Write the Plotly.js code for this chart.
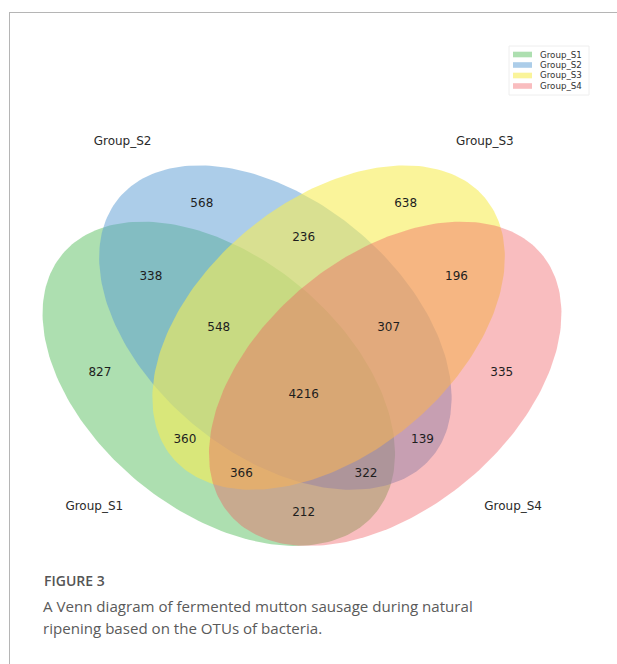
<!DOCTYPE html>
<html>
<head>
<meta charset="utf-8">
<script src="https://cdn.plot.ly/plotly-3.0.1.min.js"></script>
<style>html,body{margin:0;padding:0;background:#fff;}#chart{width:617px;height:664px;}</style>
</head>
<body>
<div id="chart"></div>
<script>
// ---- data ----
const setNames = ['Group_S1', 'Group_S2', 'Group_S3', 'Group_S4'];
// region membership keys (S1 S2 S3 S4) and OTU counts
const regionKeys = ['1000', '0100', '0010', '0001', '1100', '1010', '1001', '0110', '0101', '0011', '1110', '1101', '1011', '0111', '1111'];
const regionCounts = [827, 568, 638, 335, 338, 360, 212, 236, 139, 196, 548, 322, 366, 307, 4216];
const captionLabel = 'FIGURE 3';
const captionLines = ['A Venn diagram of fermented mutton sausage during natural', 'ripening based on the OTUs of bacteria.'];

// ---- layout / style (geometry of the classic 4-set ellipse Venn) ----
const W = 617, H = 664;
const colors = ['rgba(92,192,98,0.5)', 'rgba(90,155,212,0.5)', 'rgba(246,236,86,0.6)', 'rgba(241,90,96,0.4)'];
const ellipses = [
  {cx: 0.350, cy: 0.400, w: 0.72, h: 0.45, ang: 140},
  {cx: 0.450, cy: 0.500, w: 0.72, h: 0.45, ang: 140},
  {cx: 0.544, cy: 0.500, w: 0.72, h: 0.45, ang: 40},
  {cx: 0.644, cy: 0.400, w: 0.72, h: 0.45, ang: 40}
];
const labelPos = {
  '0001': [0.85, 0.42], '0010': [0.68, 0.72], '0011': [0.77, 0.59], '0100': [0.32, 0.72],
  '0101': [0.71, 0.30], '0110': [0.50, 0.66], '0111': [0.65, 0.50], '1000': [0.14, 0.42],
  '1001': [0.50, 0.17], '1010': [0.29, 0.30], '1011': [0.39, 0.24], '1100': [0.23, 0.59],
  '1101': [0.61, 0.24], '1110': [0.35, 0.50], '1111': [0.50, 0.38]
};
const namePos = [[0.13, 0.18], [0.18, 0.83], [0.82, 0.83], [0.87, 0.18]];
// pixel mapping of the data box
const px0 = 20.7, sx = 566, py0 = 608.6, sy = 562;
const xr = [(0 - px0) / sx, (W - px0) / sx];
const yr = [(py0 - H) / sy, py0 / sy];

const traces = [];
ellipses.forEach((e, i) => {
  const a = e.w / 2, b = e.h / 2, th = e.ang * Math.PI / 180;
  const xs = [], ys = [];
  for (let k = 0; k <= 240; k++) {
    const t = 2 * Math.PI * k / 240;
    xs.push(e.cx + a * Math.cos(t) * Math.cos(th) - b * Math.sin(t) * Math.sin(th));
    ys.push(e.cy + a * Math.cos(t) * Math.sin(th) + b * Math.sin(t) * Math.cos(th));
  }
  traces.push({
    type: 'scatter', mode: 'lines', x: xs, y: ys, fill: 'toself',
    fillcolor: colors[i], line: {width: 0, color: 'rgba(0,0,0,0)'},
    name: setNames[i], showlegend: false, hoverinfo: 'skip'
  });
});
traces.push({
  type: 'scatter', mode: 'text',
  x: regionKeys.map(k => labelPos[k][0]),
  y: regionKeys.map(k => labelPos[k][1]),
  text: regionCounts.map(String),
  textposition: 'middle center',
  textfont: {family: 'DejaVu Sans', size: 12, color: '#1e1e1e'},
  showlegend: false, hoverinfo: 'skip'
});
traces.push({
  type: 'scatter', mode: 'text',
  x: namePos.map(p => p[0]), y: namePos.map(p => p[1]),
  text: setNames, textposition: 'middle center',
  textfont: {family: 'DejaVu Sans', size: 12, color: '#2a2a2a'},
  showlegend: false, hoverinfo: 'skip'
});

const shapes = [
  {type: 'line', xref: 'paper', yref: 'paper', x0: 9 / W, x1: 1, y0: 1 - 12.5 / H, y1: 1 - 12.5 / H, line: {color: '#b5b5b5', width: 1}},
  {type: 'line', xref: 'paper', yref: 'paper', x0: 9.5 / W, x1: 9.5 / W, y0: 1 - 12 / H, y1: 0, line: {color: '#b5b5b5', width: 1}},
  // legend frame
  {type: 'rect', xref: 'paper', yref: 'paper', x0: 509 / W, x1: 589 / W, y0: 1 - 46 / H, y1: 1 - 95 / H, line: {color: '#eeeeee', width: 1}, fillcolor: 'rgba(255,255,255,0.8)'}
];
const annotations = [];
const rowY = [54.5, 65, 75.5, 86];
setNames.forEach((n, i) => {
  shapes.push({type: 'rect', xref: 'paper', yref: 'paper', x0: 513 / W, x1: 532 / W,
    y0: 1 - (rowY[i] - 2.8) / H, y1: 1 - (rowY[i] + 2.8) / H, line: {width: 0}, fillcolor: colors[i]});
  annotations.push({xref: 'paper', yref: 'paper', x: 538 / W, y: 1 - rowY[i] / H, xanchor: 'left', yanchor: 'middle',
    text: n, showarrow: false, font: {family: 'DejaVu Sans', size: 8.7, color: '#333'}});
});
annotations.push({xref: 'paper', yref: 'paper', x: 42 / W, y: 1 - 580 / H, xanchor: 'left', yanchor: 'middle',
  text: captionLabel, showarrow: false, font: {family: 'Open Sans', size: 14, color: '#555', weight: 600}});
captionLines.forEach((t, i) => {
  annotations.push({xref: 'paper', yref: 'paper', x: 41 / W, y: 1 - (605.5 + 22.5 * i) / H, xanchor: 'left', yanchor: 'middle',
    text: t, showarrow: false, font: {family: 'Open Sans', size: 15.1, color: '#5a5a5a'}});
});

const layout = {
  width: W, height: H, margin: {l: 0, r: 0, t: 0, b: 0},
  paper_bgcolor: '#fff', plot_bgcolor: '#fff',
  xaxis: {range: xr, visible: false, fixedrange: true},
  yaxis: {range: yr, visible: false, fixedrange: true},
  showlegend: false, shapes: shapes, annotations: annotations
};
Plotly.newPlot('chart', traces, layout, {staticPlot: true, displayModeBar: false});
</script>
</body>
</html>
